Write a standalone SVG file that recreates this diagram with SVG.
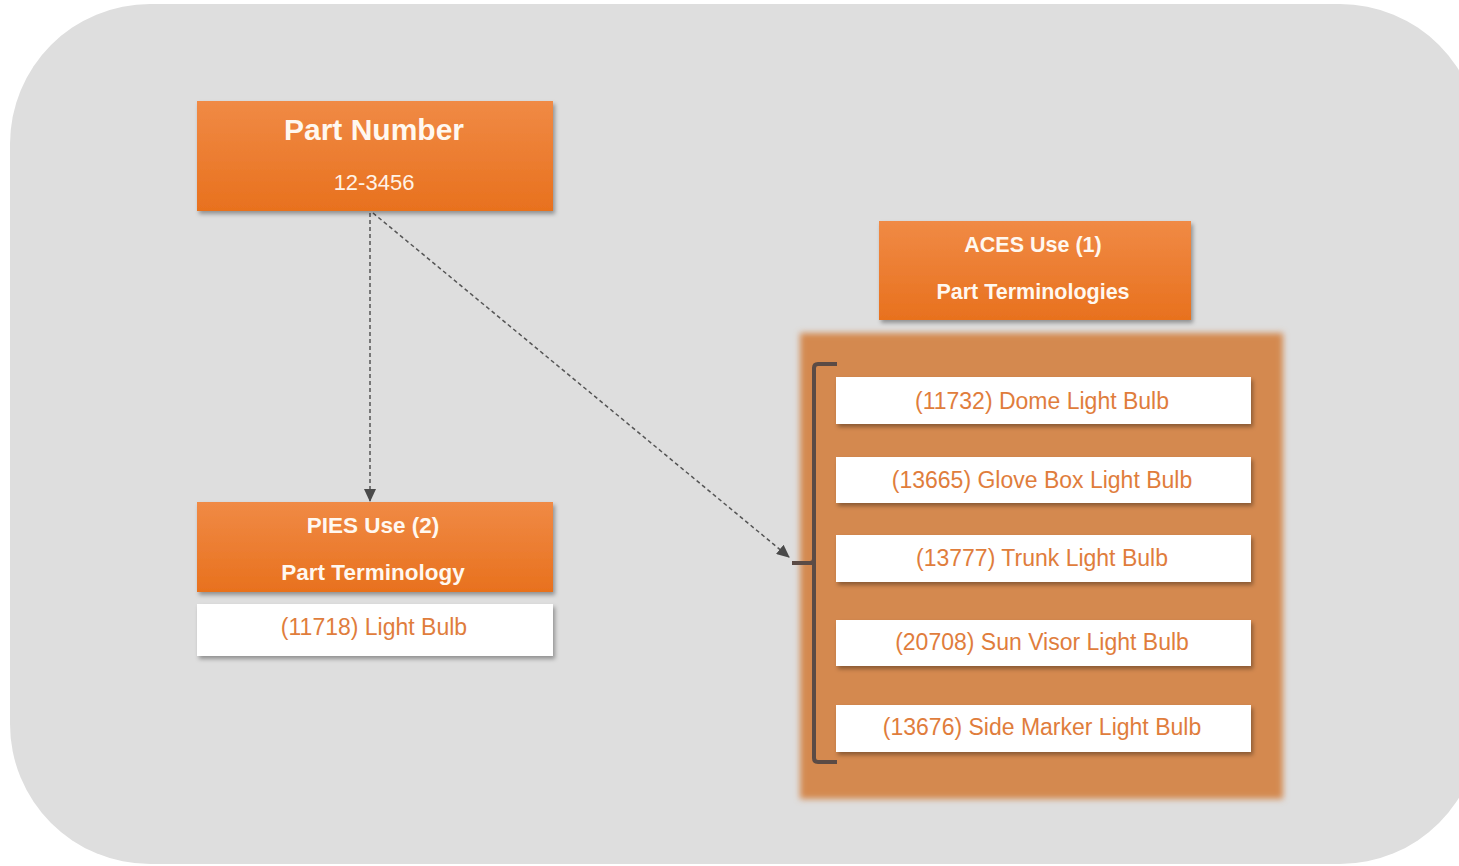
<svg xmlns="http://www.w3.org/2000/svg" width="1459" height="866" viewBox="0 0 1459 866">
<style>
.title{font-family:"Liberation Sans",Arial,sans-serif;font-weight:bold;fill:#fff8f0;text-anchor:middle}
.sub{font-family:"Liberation Sans",Arial,sans-serif;fill:#fff3e6;text-anchor:middle}
.item{font-family:"Liberation Sans",Arial,sans-serif;fill:#e07d3c;text-anchor:middle;font-size:23px}
.obox{fill:url(#og);filter:url(#sh)}
.wbox{fill:#ffffff;filter:url(#sh)}
.conn{fill:none;stroke:#555555;stroke-width:1.5;stroke-dasharray:4 3}
</style>
<defs>
<linearGradient id="og" x1="0" y1="0" x2="0" y2="1">
<stop offset="0" stop-color="#f08a45"/>
<stop offset="1" stop-color="#e8711e"/>
</linearGradient>
<filter id="sh" x="-10%" y="-20%" width="120%" height="150%">
<feDropShadow dx="2" dy="3" stdDeviation="2" flood-color="#000" flood-opacity="0.35"/>
</filter>
<filter id="blur" x="-5%" y="-5%" width="110%" height="110%">
<feGaussianBlur stdDeviation="3"/>
</filter>
<marker id="arr" markerWidth="13" markerHeight="12" refX="12" refY="6" orient="auto" markerUnits="userSpaceOnUse">
<path d="M0,0 L13,6 L0,12 z" fill="#4a4a4a"/>
</marker>
</defs>
<rect x="0" y="0" width="1459" height="866" fill="#ffffff"/>
<rect x="10" y="4" width="1470" height="860" rx="140" ry="140" fill="#dedede"/>

<g id="connectors">
<line class="conn" x1="370" y1="213" x2="370" y2="501" marker-end="url(#arr)"/>
<line class="conn" x1="373" y1="213" x2="789" y2="557" marker-end="url(#arr)"/>
</g>

<g id="part-number">
<rect class="obox" x="197" y="101" width="356" height="110"/>
<text class="title" x="374" y="140" font-size="30">Part Number</text>
<text class="sub" x="374" y="190" font-size="22">12-3456</text>
</g>

<g id="pies">
<rect class="obox" x="197" y="502" width="356" height="90"/>
<text class="title" x="373" y="533" font-size="22.5">PIES Use (2)</text>
<text class="title" x="373" y="580" font-size="22.5">Part Terminology</text>
<rect class="wbox" x="197" y="604" width="356" height="52"/>
<text class="item" x="374" y="635">(11718) Light Bulb</text>
</g>

<g id="aces">
<rect class="obox" x="879" y="221" width="312" height="99"/>
<text class="title" x="1033" y="252" font-size="21.5">ACES Use (1)</text>
<text class="title" x="1033" y="299" font-size="21.5">Part Terminologies</text>
</g>

<g id="aces-list">
<rect x="800" y="333" width="483" height="466" fill="#d4894f" filter="url(#blur)"/>
<path d="M837,364 L818,364 Q814,364 814,368 L814,758 Q814,762 818,762 L837,762 M792,563 L810,563 Q814,563 814,559" fill="none" stroke="#5b4b45" stroke-width="4"/>
<rect class="wbox" x="836" y="377" width="415" height="47"/>
<text class="item" x="1042" y="409">(11732) Dome Light Bulb</text>
<rect class="wbox" x="836" y="457" width="415" height="46"/>
<text class="item" x="1042" y="488">(13665) Glove Box Light Bulb</text>
<rect class="wbox" x="836" y="535" width="415" height="47"/>
<text class="item" x="1042" y="566">(13777) Trunk Light Bulb</text>
<rect class="wbox" x="836" y="620" width="415" height="46"/>
<text class="item" x="1042" y="650">(20708) Sun Visor Light Bulb</text>
<rect class="wbox" x="836" y="705" width="415" height="47"/>
<text class="item" x="1042" y="735">(13676) Side Marker Light Bulb</text>
</g>
</svg>
